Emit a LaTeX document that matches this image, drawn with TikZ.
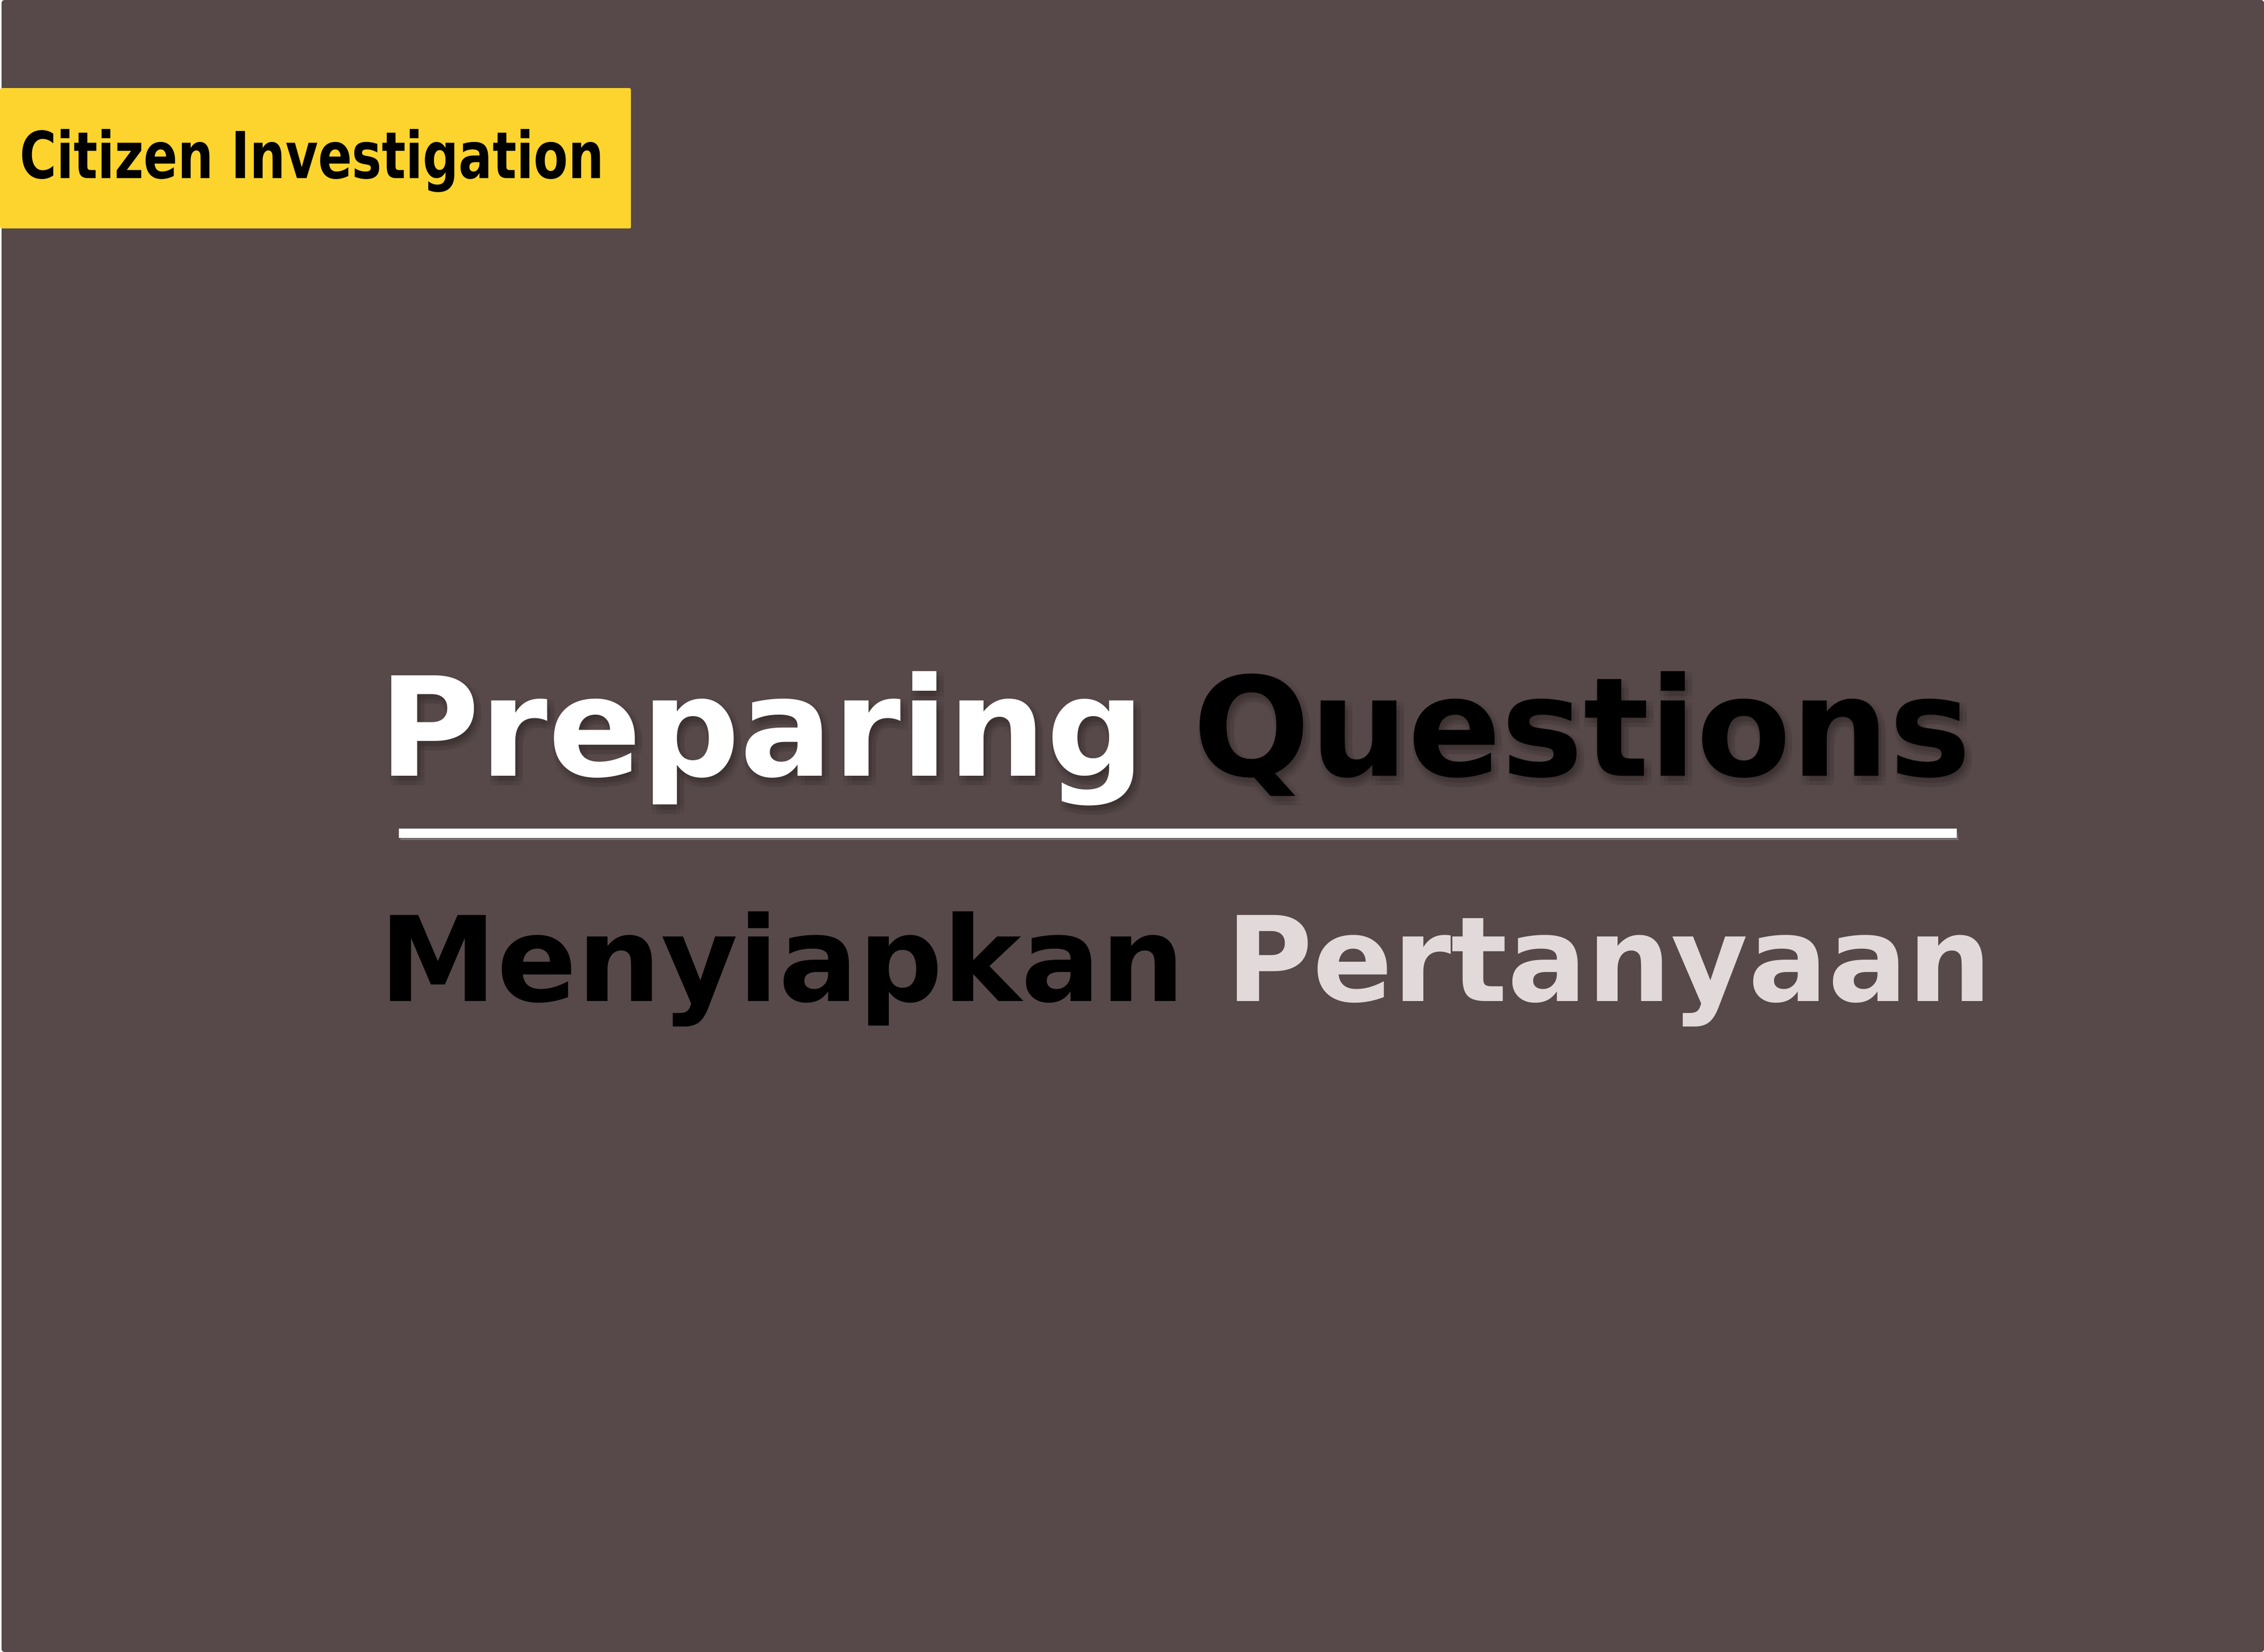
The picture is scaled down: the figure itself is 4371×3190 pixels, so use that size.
\documentclass[tikz,border=0pt]{standalone}
\usepackage{fontspec}
\setmainfont{DejaVu Sans}
\definecolor{slidebg}{HTML}{574949}
\definecolor{tagyellow}{HTML}{FDD42D}
\definecolor{palerose}{HTML}{E2DADA}
\definecolor{shade}{HTML}{241B1B}

\begin{document}
\begin{tikzpicture}[x=1pt,y=-1pt,
		word/.style={inner sep=0pt,anchor=base},
		tagfont/.style={font=\fontsize{125}{150}\selectfont\bfseries},
		titlefont/.style={font=\fontsize{266}{300}\selectfont\bfseries},
		subfont/.style={font=\fontsize{228}{260}\selectfont\bfseries},
		blur/.style={text=shade,opacity=0.07}]
			\useasboundingbox (0,0) rectangle (4371,3190);
			\fill[white] (0,0) rectangle (4371,3190);
			\fill[slidebg,rounded corners=6pt] (3,0) rectangle (4371,3190);
			\node[fill=tagyellow,rounded corners=3pt,inner sep=0pt,minimum width=1218pt,minimum height=271pt,anchor=north west] (tag) at (0,170) {};
			\node[word,tagfont] (tagtext) at (602,344) {\scalebox{0.774}[1]{Citizen Investigation}};
			\foreach \dx in {-2,6,14}
				\foreach \dy in {2,10,18}
					\node[word,titlefont,blur] at (2269+\dx,1498+\dy) {Preparing Questions};
			\node[word,titlefont] (title) at (2269,1498) {{\color{white}Preparing} Questions};
			\fill[shade,opacity=0.3] (773,1603) rectangle (3781,1621);
			\fill[white] (770,1600) rectangle (3778,1618);
			\node[word,subfont] (subtitle) at (2289,1933) {Menyiapkan {\color{palerose}Pertanyaan}};
		\end{tikzpicture}
\end{document}
